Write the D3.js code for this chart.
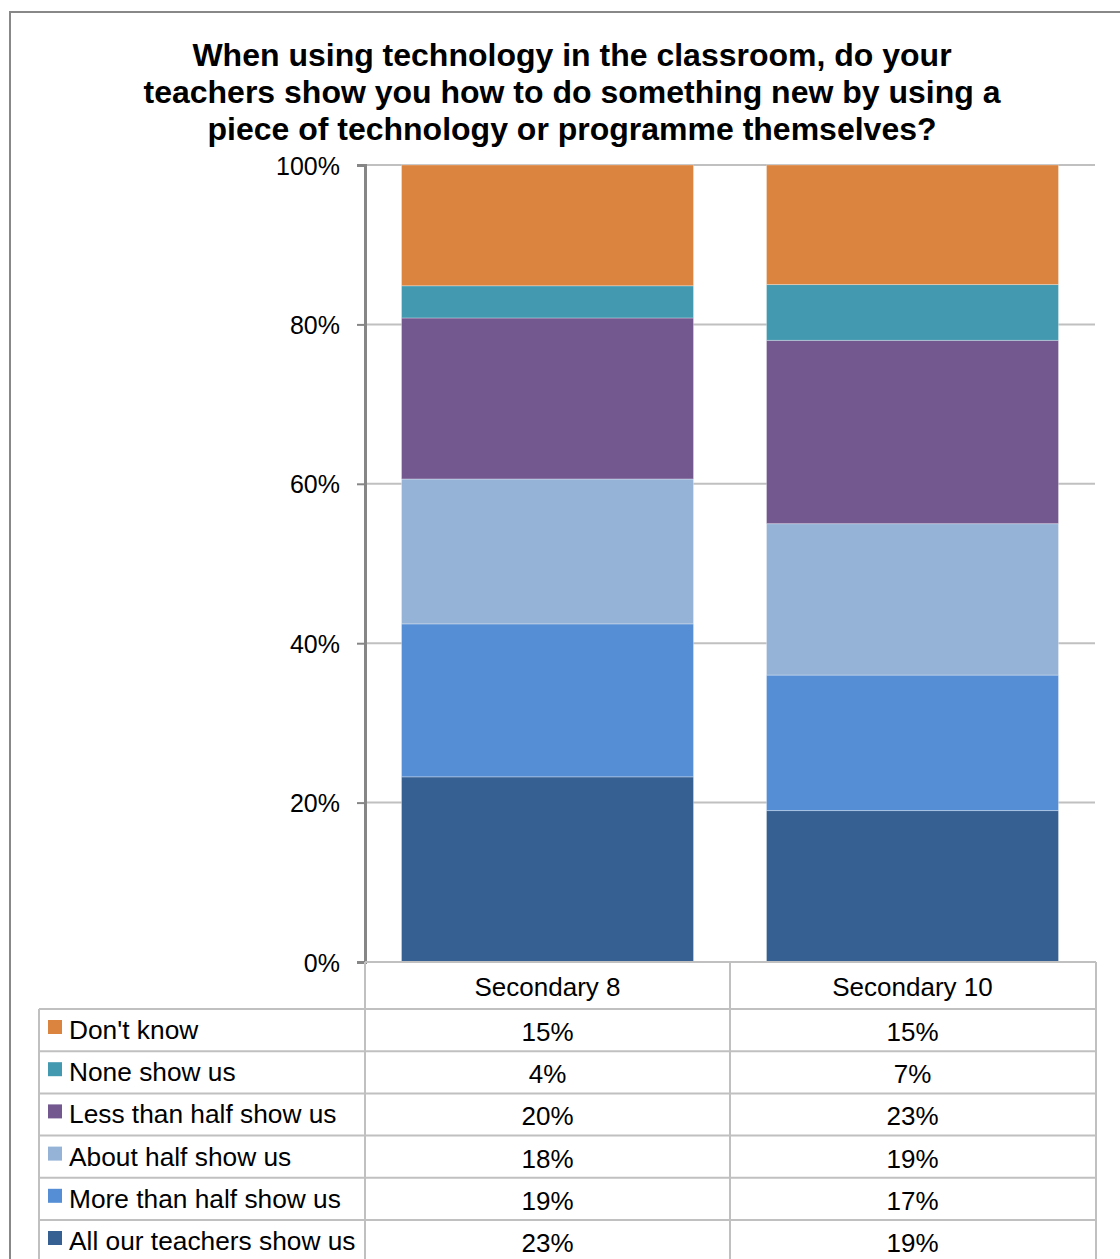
<!DOCTYPE html>
<html>
<head>
<meta charset="utf-8">
<script src="https://cdn.jsdelivr.net/npm/d3@7"></script>
<style>
  html, body { margin: 0; padding: 0; background: #fff; }
  svg { display: block; }
  text { font-family: "Liberation Sans", Arial, sans-serif; fill: #000; }
</style>
</head>
<body>
<svg id="chart" width="1120" height="1259"></svg>
<script>
// Survey answers, Secondary 8 vs Secondary 10 (percent of respondents)
const categories = ["Secondary 8", "Secondary 10"];
const seriesNames = [
  "All our teachers show us",
  "More than half show us",
  "About half show us",
  "Less than half show us",
  "None show us",
  "Don't know"
];
const secondary8 = [23, 19, 18, 20, 4, 15];
const secondary10 = [19, 17, 19, 23, 7, 15];
const seriesColors = ["#376092", "#558ED5", "#95B3D7", "#72588F", "#4299B0", "#DB843F"];
const yTicks = [0, 0.2, 0.4, 0.6, 0.8, 1];
const titleLines = [
  "When using technology in the classroom, do your",
  "teachers show you how to do something new by using a",
  "piece of technology or programme themselves?"
];

const svg = d3.select("#chart");
const W = 1120, H = 1259;

// plot area
const plot = { left: 365, right: 1095, top: 165, bottom: 962 };

// outer chart frame
svg.append("path")
  .attr("d", `M10,${H + 5} L10,12 L${W + 5},12`)
  .attr("fill", "none").attr("stroke", "#888").attr("stroke-width", 2);

// title
const title = svg.append("text")
  .attr("text-anchor", "middle")
  .attr("font-size", 32).attr("font-weight", "bold");
titleLines.forEach((line, i) => {
  title.append("tspan").attr("x", 572).attr("y", 66 + i * 37).text(line);
});

// table of values per series per category
const rows = seriesNames.map((name, i) => ({
  name, color: seriesColors[i], values: [secondary8[i], secondary10[i]]
}));
const tableData = categories.map((cat, ci) => {
  const o = { category: cat };
  seriesNames.forEach((s, si) => { o[s] = rows[si].values[ci]; });
  return o;
});

const x = d3.scaleBand().domain(categories).range([plot.left, plot.right]).padding(0);
const y = d3.scaleLinear().domain([0, 1]).range([plot.bottom, plot.top]);

// gridlines
svg.append("g").selectAll("line").data(yTicks.filter(t => t > 0)).join("line")
  .attr("x1", plot.left).attr("x2", plot.right)
  .attr("y1", d => y(d)).attr("y2", d => y(d))
  .attr("stroke", "#C0C0C0").attr("stroke-width", 2);

// stacked bars (100% normalized)
const stack = d3.stack().keys(seriesNames).offset(d3.stackOffsetExpand);
const layers = stack(tableData);
const barW = x.bandwidth() * 0.8;
svg.append("g").selectAll("g").data(layers).join("g")
  .attr("fill", (d, i) => seriesColors[i])
  .selectAll("rect").data(d => d).join("rect")
  .attr("x", d => x(d.data.category) + (x.bandwidth() - barW) / 2)
  .attr("width", barW)
  .attr("y", d => y(d[1]))
  .attr("height", d => y(d[0]) - y(d[1]))
  .attr("stroke", "rgba(255,255,255,0.3)").attr("stroke-width", 1);

// y axis
const yAxis = d3.axisLeft(y).tickValues(yTicks).tickFormat(d3.format(".0%"))
  .tickSize(8).tickPadding(17);
const yg = svg.append("g").attr("transform", `translate(${plot.left},0)`).call(yAxis);
yg.select(".domain").attr("stroke", "#868686").attr("stroke-width", 3);
yg.selectAll(".tick line").attr("stroke", "#868686").attr("stroke-width", 2);
yg.selectAll(".tick text").attr("font-size", 25).attr("fill", "#000")
  .attr("font-family", "Liberation Sans, Arial, sans-serif").attr("dy", "0.36em");

// data table below the axis
const tableTop = plot.bottom;
const headerH = 47;
const rowH = 42.2;
const legendLeft = 39;
const grid = "#C0C0C0";
const tg = svg.append("g");

// header row
tg.append("line").attr("x1", plot.left).attr("x2", plot.right + 1)
  .attr("y1", tableTop).attr("y2", tableTop).attr("stroke", grid).attr("stroke-width", 2);
tg.selectAll(".hdr").data(categories).join("text")
  .attr("x", d => x(d) + x.bandwidth() / 2)
  .attr("y", tableTop + headerH / 2 + 10)
  .attr("text-anchor", "middle").attr("font-size", 26)
  .text(d => d);

// horizontal lines of the data rows
const displayRows = rows.slice().reverse();
const rowTops = displayRows.map((r, i) => tableTop + headerH + i * rowH);
tg.selectAll(".hl").data(rowTops.concat([tableTop + headerH + displayRows.length * rowH])).join("line")
  .attr("x1", legendLeft).attr("x2", plot.right + 1)
  .attr("y1", d => d).attr("y2", d => d)
  .attr("stroke", grid).attr("stroke-width", 2);

// vertical lines
const vlines = [
  { x: legendLeft, y0: tableTop + headerH },
  { x: plot.left, y0: tableTop },
  { x: x(categories[1]), y0: tableTop },
  { x: plot.right + 1, y0: tableTop }
];
tg.selectAll(".vl").data(vlines).join("line")
  .attr("x1", d => d.x).attr("x2", d => d.x)
  .attr("y1", d => d.y0).attr("y2", H + 10)
  .attr("stroke", grid).attr("stroke-width", 2);

// legend keys and labels
const rowG = tg.selectAll(".row").data(displayRows).join("g")
  .attr("transform", (d, i) => `translate(0,${rowTops[i]})`);
rowG.append("rect")
  .attr("x", 48).attr("y", 11).attr("width", 14).attr("height", 14)
  .attr("fill", d => d.color);
rowG.append("text")
  .attr("x", 69).attr("y", rowH / 2 + 9)
  .attr("font-size", 26.3)
  .text(d => d.name);
rowG.selectAll(".val").data(d => d.values).join("text")
  .attr("x", (v, i) => x(categories[i]) + x.bandwidth() / 2)
  .attr("y", rowH / 2 + 11)
  .attr("text-anchor", "middle").attr("font-size", 26)
  .text(v => v + "%");
</script>
</body>
</html>
